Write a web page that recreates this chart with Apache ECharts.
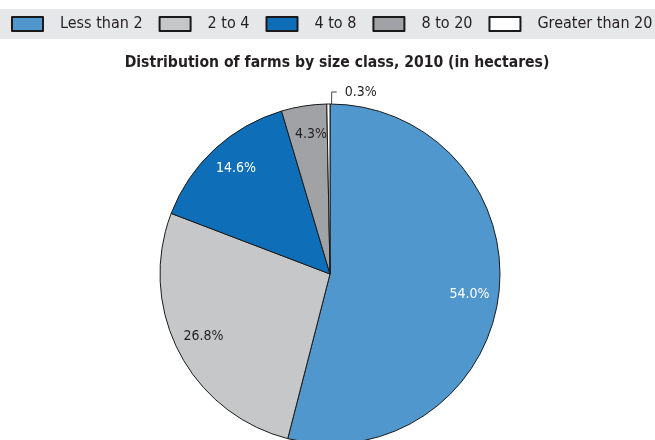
<!DOCTYPE html>
<html>
<head>
<meta charset="utf-8">
<script src="https://cdn.jsdelivr.net/npm/echarts@6/dist/echarts.min.js"></script>
<style>
  html, body { margin: 0; padding: 0; background: #fff; }
  #chart { width: 655px; height: 440px; }
</style>
</head>
<body>
<div id="chart"></div>
<script>
const categories = ['Less than 2', '2 to 4', '4 to 8', '8 to 20', 'Greater than 20'];
const shares = [54.0, 26.8, 14.6, 4.3, 0.3];
const colors = ['#4f97cc', '#c6c7c9', '#0e6fb8', '#a1a2a5', '#ffffff'];
const labelColors = ['#ffffff', '#231f20', '#ffffff', '#231f20', '#231f20'];

const FONT = '"DejaVu Sans Condensed", "Liberation Sans Narrow", sans-serif';
const center = [330, 274];

const chart = echarts.init(document.getElementById('chart'));

const pieData = categories.map((name, i) => ({
  name,
  value: shares[i],
  itemStyle: { color: colors[i] }
}));

// labels sit at ~0.8 of the radius, so use a transparent ring to place them.
// the tiny slice goes first here so its callout points to the right of the top
const labelOrder = [4, 0, 1, 2, 3];
const labelData = labelOrder.map(i => {
  const small = shares[i] < 1;
  return {
    name: categories[i],
    value: shares[i],
    label: small
      ? { position: 'outside', color: labelColors[i], distanceToLabelLine: 8 }
      : { position: 'inside', color: labelColors[i] },
    labelLine: { show: small }
  };
});

chart.setOption({
  animation: false,
  graphic: [{
    type: 'rect',
    left: 0, top: 9,
    shape: { width: 655, height: 30 },
    style: { fill: '#e6e7e8' },
    z: -1
  }],
  title: {
    text: 'Distribution of farms by size class, 2010 (in hectares)',
    left: 332,
    top: 50,
    textAlign: 'center',
    textStyle: { fontFamily: FONT, fontSize: 15.6, fontWeight: 'bold', color: '#231f20' }
  },
  legend: {
    data: categories,
    top: 16,
    left: 11,
    padding: 0,
    itemGap: 16,
    itemWidth: 31,
    itemHeight: 14,
    icon: 'rect',
    textStyle: { fontFamily: FONT, fontSize: 16, color: '#231f20', lineHeight: 16, padding: [0, 0, 0, 12] }
  },
  series: [
    {
      type: 'pie',
      center,
      radius: 170,
      startAngle: 90,
      clockwise: true,
      silent: true,
      label: { show: false },
      labelLine: { show: false },
      itemStyle: { borderColor: '#1a1a1a', borderWidth: 1 },
      data: pieData
    },
    {
      type: 'pie',
      center,
      radius: [106, 170],
      startAngle: 90,
      clockwise: true,
      silent: true,
      legendHoverLink: false,
      itemStyle: { color: 'rgba(0,0,0,0)', borderWidth: 0 },
      label: {
        show: true,
        fontFamily: FONT,
        fontSize: 14,
        formatter: p => p.value.toFixed(1) + '%'
      },
      labelLine: {
        length: 12,
        length2: 5,
        lineStyle: { color: '#444', width: 1 }
      },
      data: labelData
    }
  ]
});
</script>
</body>
</html>
